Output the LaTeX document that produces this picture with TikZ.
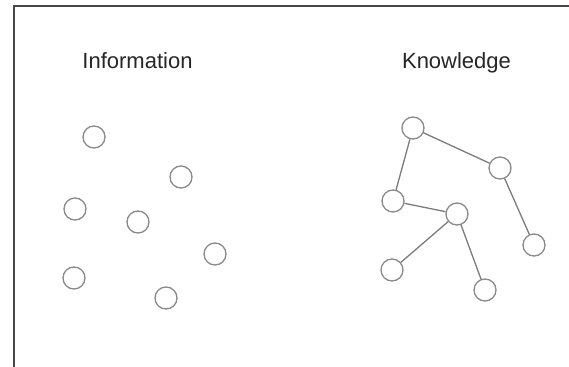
\documentclass[tikz,border=0pt]{standalone}
\usepackage{fontspec}
\setmainfont{Liberation Sans}
\definecolor{framec}{HTML}{474747}
\definecolor{circc}{HTML}{8A8A8A}
\definecolor{linkc}{HTML}{7C7C7C}
\begin{document}
\begin{tikzpicture}[x=1pt,y=-1pt,
  dot/.style={circle,draw=circc,line width=1.3pt,minimum size=22pt,inner sep=0pt,fill=white},
  link/.style={draw=linkc,line width=1.3pt},
  title/.style={anchor=base,font=\fontsize{22}{26}\selectfont,text=black!85,inner sep=0pt}]
\useasboundingbox (0,0) rectangle (569,366);
\fill[white] (0,0) rectangle (569,366);
\coordinate (fb) at (14,367);
\coordinate (ftl) at (14,6);
\coordinate (fr) at (570,6);
\draw[framec,line width=2pt] (fb) -- (ftl) -- (fr);
\node[title] (info) at (137.5,69) {Information};
\node[title] (know) at (456.5,69) {Knowledge};
% information
\node[dot] (i1) at (94,137) {};
\node[dot] (i2) at (181,177) {};
\node[dot] (i3) at (75,209) {};
\node[dot] (i4) at (138,222) {};
\node[dot] (i5) at (215,254) {};
\node[dot] (i6) at (74,278) {};
\node[dot] (i7) at (166,298) {};
% knowledge
\node[dot] (ka) at (413,128) {};
\node[dot] (kb) at (500,168) {};
\node[dot] (kc) at (393,201) {};
\node[dot] (kd) at (457,214) {};
\node[dot] (ke) at (534,245) {};
\node[dot] (kf) at (392,270) {};
\node[dot] (kg) at (485,290) {};
\draw[link] (ka) -- (kb);
\draw[link] (ka) -- (kc);
\draw[link] (kc) -- (kd);
\draw[link] (kd) -- (kf);
\draw[link] (kd) -- (kg);
\draw[link] (kb) -- (ke);
\end{tikzpicture}
\end{document}
